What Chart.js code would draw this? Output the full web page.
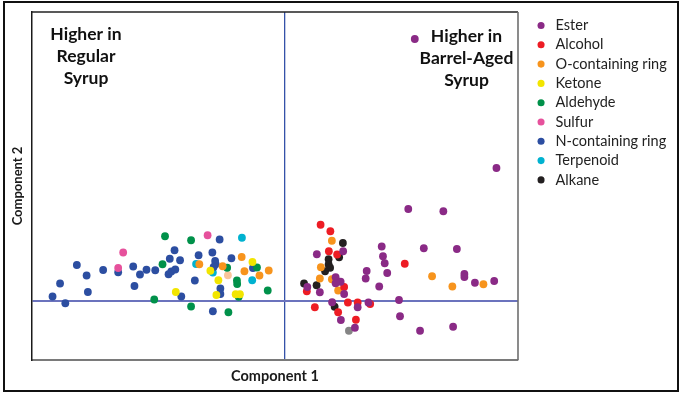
<!DOCTYPE html>
<html>
<head>
<title>Component plot</title>
<script src="https://cdn.jsdelivr.net/npm/chart.js"></script>
<style>
  body { margin: 0; background: #fff; }
  #wrap { position: relative; width: 682px; height: 395px; }
  #frame { position: absolute; left: 3px; top: 1px; width: 672px; height: 387px; border: 2px solid #111; pointer-events: none; }
</style>
</head>
<body>
<div id="wrap">
  <canvas id="scoreChart" width="682" height="395"></canvas>
  <div id="frame"></div>
</div>
<script>
// [component 1, component 2] per compound
const ester = [[5.2,10.46],[8.46,5.3],[4.94,3.66],[6.34,3.57],[3.88,2.16],[5.56,2.09],[6.88,2.06],[3.93,1.77],
  [4.0,1.49],[3.28,1.18],[4.1,1.1],[3.24,0.88],[3.78,0.56],[7.18,1.06],[7.18,0.94],[7.6,0.71],[8.37,0.78],
  [4.57,0.02],[4.61,-0.63],[5.41,-1.21],[6.73,-1.05],[2.34,1.97],[1.29,1.85],[2.04,0.93],[2.24,0.75],
  [2.04,0.69],[2.38,0.26],[0.91,0.54],[1.41,0.33],[1.9,-0.07],[2.92,-0.27],[3.35,-0.08],[2.25,-0.78],[2.81,-1.09]];
const alcohol = [[1.44,3.03],[1.83,2.77],[1.77,1.97],[2.1,1.84],[4.8,1.47],[2.38,0.54],[0.89,0.37],
  [1.21,-0.27],[2.53,-0.08],[2.92,-0.08],[3.42,-0.14],[2.14,-0.47],[2.85,-0.77]];
const oRing = [[-3.4,1.45],[-1.71,1.74],[-2.47,1.37],[-1.6,1.17],[-1.0,1.0],[-0.63,1.2],[1.89,2.39],
  [1.45,1.33],[1.41,0.88],[1.89,0.85],[2.14,0.4],[5.89,0.97],[6.7,0.56],[7.94,0.65]];
const ketone = [[-2.96,1.19],[-2.64,0.81],[-1.28,1.54],[-4.34,0.34],[-2.72,0.22],[-1.95,0.25],[-1.78,0.25]];
const aldehyde = [[-4.77,2.57],[-3.73,2.41],[-4.87,1.45],[-2.29,1.31],[-1.1,1.32],[-1.9,0.8],[-1.89,0.66],
  [-1.83,0.15],[-0.67,0.4],[-5.2,0.04],[-3.73,-0.24],[-2.24,-0.47]];
const sulfur = [[-6.44,1.92],[-6.64,1.3],[-3.07,2.61]];
const nRing = [[-9.26,0.16],[-8.75,-0.11],[-8.96,0.68],[-8.29,1.42],[-7.9,1.0],[-7.85,0.34],[-7.24,1.22],
  [-6.64,1.13],[-6.04,1.36],[-5.99,0.58],[-5.77,1.04],[-5.51,1.23],[-5.16,1.21],[-4.58,1.67],[-4.17,1.61],
  [-4.63,1.05],[-4.52,1.16],[-4.36,1.24],[-4.39,2.01],[-3.43,1.81],[-2.88,1.92],[-2.59,2.44],[-2.77,1.58],
  [-2.75,1.45],[-2.83,1.34],[-2.12,1.69],[-1.26,1.3],[-3.58,0.8],[-4.12,0.16],[-2.56,0.48],[-2.56,0.26],[-2.86,-0.43]];
const terpenoid = [[-1.7,2.51],[-3.53,1.46],[-2.86,1.12],[-1.29,0.81]];
const alkane = [[2.33,2.3],[2.18,1.73],[1.76,1.65],[1.76,1.44],[1.82,1.31],[1.62,1.17],[0.78,0.68],[1.28,0.61],[2.0,-0.25]];
// two dots drawn in off-legend shades
const greyDot = [[2.57,-1.21]];
const peachDot = [[-2.26,1.01]];

const seriesNames = ['Ester', 'Alcohol', 'O-containing ring', 'Ketone', 'Aldehyde', 'Sulfur', 'N-containing ring', 'Terpenoid', 'Alkane'];
const seriesData = [ester, alcohol, oRing, ketone, aldehyde, sulfur, nRing, terpenoid, alkane];
const seriesColors = ['#8a2a86', '#ed1c24', '#f7941d', '#f2e500', '#00914a', '#e6519c', '#2c4ea1', '#00b2d0', '#231f20'];

const xRange = [-10.08, 9.32];
const yRange = [-2.38, 11.54];

Chart.defaults.font.family = 'Lato';

const toXY = pts => pts.map(p => ({x: p[0], y: p[1]}));
const datasets = seriesData.map((pts, i) => ({
  label: seriesNames[i],
  data: toXY(pts),
  backgroundColor: seriesColors[i],
  borderWidth: 0,
  pointRadius: 3.9,
  pointHoverRadius: 3.9
}));
datasets.push({label: '', data: toXY(greyDot), backgroundColor: '#858585', borderWidth: 0, pointRadius: 3.9});
datasets.push({label: '', data: toXY(peachDot), backgroundColor: '#f9c59b', borderWidth: 0, pointRadius: 3.9});

const onlyZero = scale => { scale.ticks = [{value: 0}]; };

const notes = {
  id: 'notes',
  afterDraw(chart) {
    const {ctx, chartArea: a} = chart;
    ctx.save();
    ctx.lineWidth = 1.3;
    ctx.strokeStyle = '#222';
    ctx.beginPath(); ctx.moveTo(a.left, a.top); ctx.lineTo(a.right, a.top); ctx.stroke();
    ctx.lineWidth = 1.6;
    ctx.strokeStyle = '#6f6f6f';
    ctx.beginPath(); ctx.moveTo(a.right, a.top); ctx.lineTo(a.right, a.bottom); ctx.stroke();

    ctx.fillStyle = '#111';
    ctx.font = 'bold 17.5px Lato';
    ctx.textAlign = 'center';
    ['Higher in', 'Regular', 'Syrup'].forEach((t, i) => ctx.fillText(t, a.left + 54, a.top + 28 + i * 22));
    ['Higher in', 'Barrel-Aged', 'Syrup'].forEach((t, i) => ctx.fillText(t, a.right - 51.5, a.top + 30.3 + i * 22));
    ctx.restore();
  }
};

new Chart(document.getElementById('scoreChart'), {
  type: 'scatter',
  data: {datasets: datasets},
  options: {
    responsive: false,
    animation: false,
    layout: {padding: {left: 6, top: 12, right: 13, bottom: 8.3}},
    plugins: {
      tooltip: {enabled: false},
      legend: {
        position: 'right',
        align: 'start',
        maxWidth: 140,
        title: {display: true, text: '', padding: 0, font: {size: 1.2}},
        labels: {
          usePointStyle: true,
          boxWidth: 14.5,
          boxHeight: 5,
          padding: 4.8,
          color: '#222',
          font: {size: 14.5},
          filter: item => item.text !== ''
        }
      }
    },
    scales: {
      x: {
        type: 'linear',
        min: xRange[0],
        max: xRange[1],
        afterBuildTicks: onlyZero,
        ticks: {display: false},
        grid: {color: '#3552a8', lineWidth: 1.3, drawTicks: false},
        border: {color: '#7a7a7a', width: 2},
        title: {display: true, text: 'Component 1', color: '#1a1a1a',
          font: {size: 14.5, weight: 'bold'}, padding: {top: 7.3, bottom: 2}}
      },
      y: {
        type: 'linear',
        min: yRange[0],
        max: yRange[1],
        afterBuildTicks: onlyZero,
        ticks: {display: false},
        grid: {color: '#6b73bd', lineWidth: 2, drawTicks: false},
        border: {color: '#1a1a1a', width: 1.5},
        title: {display: true, text: 'Component 2', color: '#1a1a1a',
          font: {size: 13, weight: 'bold'}, padding: {top: 4.2, bottom: 6.2}}
      },
      gap: {
        position: 'right',
        ticks: {display: false},
        grid: {display: false, drawTicks: false},
        border: {display: false},
        afterFit: scale => { scale.width = 11; }
      }
    }
  },
  plugins: [notes]
});
</script>
</body>
</html>
